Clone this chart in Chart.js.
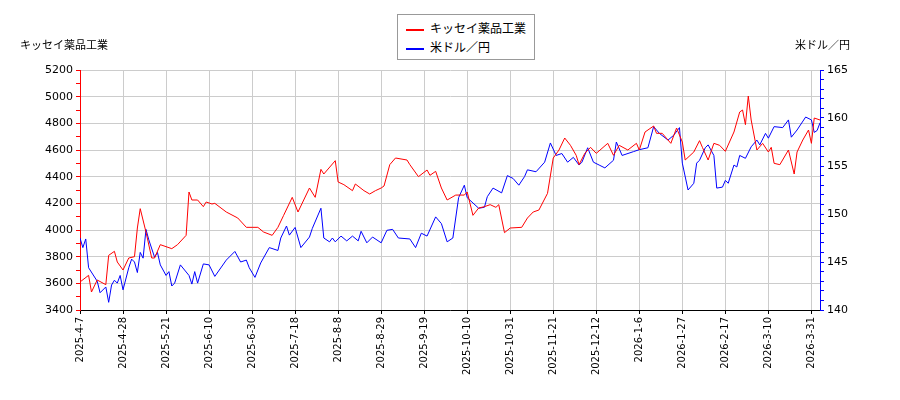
<!DOCTYPE html>
<html>
<head>
<meta charset="utf-8">
<script src="https://cdn.jsdelivr.net/npm/chart.js@4/dist/chart.umd.min.js"></script>
<style>
  body { margin: 0; background: #fff; font-family: "Noto Sans CJK JP", sans-serif; }
  #wrap { position: relative; width: 900px; height: 400px; }
  #legend { position: absolute; left: 397px; top: 14px; border: 1px solid #999; background: #fff;
            padding: 3px 8px; font-size: 12px; line-height: 19px; color: #000; }
  #legend span.sw { display: inline-block; width: 18px; height: 0; border-top: 2px solid; vertical-align: middle; margin-right: 6px; }
</style>
</head>
<body>
<div id="wrap">
  <canvas id="chart" width="900" height="400"></canvas>
  <div id="legend">
    <div><span class="sw" style="border-color:#ff0000"></span>キッセイ薬品工業</div>
    <div><span class="sw" style="border-color:#0000ff"></span>米ドル／円</div>
  </div>
</div>
<script>
// Tick labels (every 15 trading days)
const tickLabels = ['2025-4-7', '2025-4-28', '2025-5-21', '2025-6-10', '2025-6-30', '2025-7-18',
    '2025-8-8', '2025-8-29', '2025-9-19', '2025-10-10', '2025-10-31', '2025-11-21',
    '2025-12-12', '2026-1-6', '2026-1-27', '2026-2-17', '2026-3-10', '2026-3-31'];

// キッセイ薬品工業 (trading-day index, price)
const stockIdx = [0, 3, 4, 6, 9, 10, 12, 13, 15, 17, 19, 20, 21, 23, 25, 26, 28, 32, 34, 37, 38, 39, 41, 43, 44, 46, 47,
    51, 55, 58, 60, 62, 64, 67, 69, 71, 74, 76, 80, 82, 84, 85, 89, 90, 92, 95, 96, 99, 101, 103, 105, 106, 108, 110,
    114, 115, 118, 121, 122, 124, 126, 128, 131, 134, 135, 137, 139, 141, 143, 145, 146, 148, 150, 154, 156, 158, 160,
    163, 165, 167, 169, 171, 173, 174, 176, 178, 180, 184, 186, 188, 191, 194, 195, 197, 200, 201, 203, 206, 208, 210,
    211, 214, 216, 217, 219, 221, 223, 225, 228, 230, 231, 232, 233, 234, 236, 238, 240, 241, 242, 244, 247, 249, 250,
    252, 254, 255, 256, 258];
const stockVal = [3610, 3660, 3535, 3625, 3590, 3810, 3840, 3760, 3700, 3790, 3800, 4015, 4160, 3985, 3790, 3790, 3890,
    3860, 3890, 3960, 4285, 4225, 4225, 4175, 4210, 4195, 4200, 4135, 4090, 4020, 4020, 4020, 3985, 3960, 4020, 4110,
    4245, 4135, 4315, 4245, 4455, 4420, 4520, 4360, 4340, 4295, 4345, 4295, 4270, 4295, 4315, 4330, 4490, 4540, 4525,
    4490, 4400, 4450, 4410, 4440, 4315, 4225, 4262, 4262, 4285, 4110, 4165, 4175, 4190, 4170, 4190, 3980, 4015, 4020,
    4090, 4135, 4150, 4275, 4540, 4600, 4690, 4635, 4560, 4490, 4575, 4620, 4575, 4650, 4560, 4635, 4600, 4650, 4600,
    4735, 4780, 4725, 4725, 4650, 4765, 4660, 4525, 4585, 4670, 4620, 4525, 4650, 4635, 4590, 4735, 4885, 4900, 4790,
    5005, 4825, 4600, 4650, 4585, 4620, 4500, 4490, 4600, 4420, 4585, 4675, 4750, 4650, 4840, 4825];

// 米ドル／円 (trading-day index, rate)
const fxIdx = [0, 1, 2, 3, 6, 7, 9, 10, 11, 12, 13, 14, 15, 17, 18, 19, 20, 21, 22, 23, 24, 26, 27, 28, 30, 31, 32, 33,
    35, 38, 39, 40, 41, 43, 45, 47, 51, 54, 56, 58, 59, 61, 63, 66, 69, 70, 72, 73, 75, 77, 80, 81, 84, 85, 87, 88, 89,
    91, 93, 95, 97, 98, 100, 102, 105, 107, 109, 111, 115, 117, 119, 121, 124, 126, 128, 130, 132, 134, 135, 139, 141,
    142, 144, 147, 149, 151, 153, 155, 156, 159, 162, 164, 166, 168, 170, 172, 174, 175, 177, 179, 181, 183, 186, 187,
    189, 193, 195, 198, 200, 202, 205, 207, 209, 210, 212, 214, 215, 216, 218, 219, 221, 222, 224, 225, 226, 228, 229,
    230, 232, 234, 236, 237, 239, 240, 242, 245, 247, 248, 250, 253, 255, 256, 257, 258];
const fxVal = [147.5, 146.5, 147.4, 144.4, 143, 141.8, 142.4, 140.8, 142.6, 143.1, 142.8, 143.6, 142.1, 144.4, 145.3,
    145, 143.9, 146, 145.4, 148.4, 147.3, 145.5, 146, 144.7, 143.6, 144, 142.5, 142.8, 144.7, 143.6, 142.7, 144, 142.8,
    144.8, 144.7, 143.5, 145.2, 146.1, 145, 145.2, 144.4, 143.4, 144.9, 146.5, 146.2, 147.5, 148.75, 147.8, 148.6,
    146.5, 147.6, 148.5, 150.6, 147.5, 147.1, 147.5, 147.1, 147.7, 147.2, 147.7, 147.2, 148.2, 147, 147.6, 147, 148.3,
    148.4, 147.5, 147.4, 146.5, 148, 147.7, 149.7, 149, 147.1, 147.5, 151.7, 153, 151.7, 150.6, 150.7, 151.8, 152.7,
    152.2, 154, 153.7, 153, 153.9, 154.6, 154.4, 155.4, 157.4, 156.1, 156.3, 155.4, 155.9, 155.1, 155.4, 156.9, 155.4,
    155.1, 154.8, 155.6, 157.5, 156.1, 156.5, 156.7, 156.9, 159.1, 158.4, 157.7, 158.2, 159, 155.3, 152.5, 153.2, 155.3,
    155.6, 156.9, 157.2, 156.1, 152.7, 152.8, 153.5, 153.2, 155.1, 154.9, 156.1, 155.8, 157, 157.7, 157.2, 158.4, 157.9,
    159.1, 159, 159.8, 158, 158.75, 160.1, 159.8, 158.5, 158.7, 159.5];

const toPoints = (xs, ys) => xs.map((x, i) => ({ x: x, y: ys[i] }));

// Axis titles drawn above the plot
const titlePlugin = {
    id: 'axisTitles',
    afterDraw(chart) {
        const c = chart.ctx;
        c.save();
        c.font = '11px "Noto Sans CJK JP"';
        c.fillStyle = '#000';
        c.textBaseline = 'middle';
        c.textAlign = 'left';
        c.fillText('キッセイ薬品工業', 20, 45);
        c.textAlign = 'right';
        c.fillText('米ドル／円', 850, 45);
        c.restore();
    }
};

new Chart(document.getElementById('chart'), {
    type: 'line',
    data: {
        datasets: [{
            label: 'キッセイ薬品工業',
            data: toPoints(stockIdx, stockVal),
            borderColor: '#ff0000',
            borderWidth: 1,
            pointRadius: 0,
            tension: 0,
            yAxisID: 'y'
        }, {
            label: '米ドル／円',
            data: toPoints(fxIdx, fxVal),
            borderColor: '#0000ff',
            borderWidth: 1,
            pointRadius: 0,
            tension: 0,
            yAxisID: 'y1'
        }]
    },
    options: {
        responsive: false,
        animation: false,
        layout: { padding: { top: 70, left: 0, right: 0, bottom: 0 } },
        plugins: { legend: { display: false }, tooltip: { enabled: false } },
        scales: {
            x: {
                type: 'linear',
                min: 0,
                max: 258,
                afterBuildTicks: axis => { axis.ticks = tickLabels.map((_, i) => ({ value: i * 15 })); },
                afterFit: axis => { axis.height = 90; },
                ticks: {
                    autoSkip: false,
                    maxRotation: 90,
                    minRotation: 90,
                    color: '#000',
                    font: { size: 10, family: 'DejaVu Sans' },
                    callback: (v) => tickLabels[Math.round(v / 15)]
                },
                grid: { color: '#cccccc', tickColor: '#000', tickLength: 4 },
                border: { color: '#000' }
            },
            y: {
                position: 'left',
                min: 3400,
                max: 5200,
                afterFit: axis => { axis.width = 80; },
                ticks: {
                    stepSize: 100,
                    autoSkip: false,
                    color: '#000',
                    font: { size: 11, family: 'DejaVu Sans' },
                    callback: v => (v % 200 === 0 ? v : '')
                },
                grid: {
                    color: ctx => (ctx.tick && ctx.tick.value % 200 === 0 ? '#cccccc' : 'rgba(0,0,0,0)'),
                    tickColor: '#ff0000',
                    tickLength: 4
                },
                border: { color: '#ff0000' }
            },
            y1: {
                position: 'right',
                min: 140,
                max: 165,
                afterFit: axis => { axis.width = 80; },
                ticks: {
                    stepSize: 1,
                    autoSkip: false,
                    color: '#000',
                    font: { size: 11, family: 'DejaVu Sans' },
                    callback: v => (v % 5 === 0 ? v : '')
                },
                grid: { drawOnChartArea: false, tickColor: '#0000ff', tickLength: 4 },
                border: { color: '#0000ff' }
            }
        }
    },
    plugins: [titlePlugin]
});
</script>
</body>
</html>
